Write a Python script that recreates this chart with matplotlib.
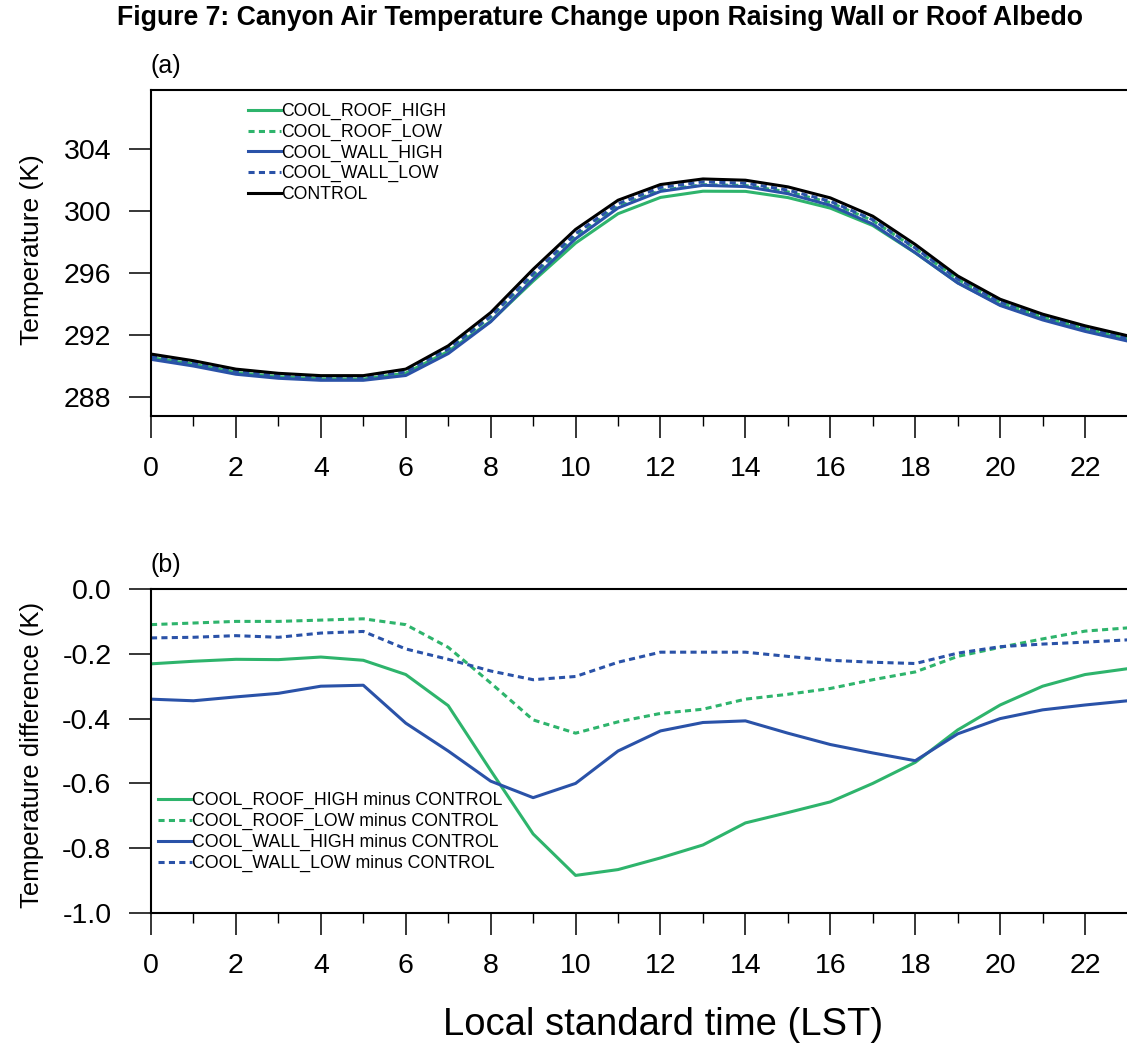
import numpy as np
import matplotlib
matplotlib.use("Agg")
import matplotlib.pyplot as plt
from matplotlib.ticker import MultipleLocator

plt.rcParams['font.family'] = ['Liberation Sans', 'DejaVu Sans']
plt.rcParams['axes.unicode_minus'] = False

#================ Dati ================
hours = list(range(24))

# (a) canyon air temperature (K)
control = [290.79, 290.36, 289.82, 289.55, 289.40, 289.40, 289.82, 291.32, 293.46, 296.25, 298.82, 300.70,
           301.71, 302.07, 301.99, 301.56, 300.85, 299.67, 297.85, 295.82, 294.32, 293.36, 292.61, 291.97]
roof_high = [290.56, 290.14, 289.60, 289.33, 289.19, 289.18, 289.56, 290.96, 292.90, 295.49, 297.94, 299.83,
             300.88, 301.28, 301.27, 300.87, 300.19, 299.07, 297.31, 295.38, 293.96, 293.06, 292.35, 291.72]
roof_low = [290.68, 290.26, 289.72, 289.45, 289.30, 289.31, 289.71, 291.14, 293.17, 295.85, 298.38, 300.29,
            301.33, 301.70, 301.65, 301.24, 300.54, 299.39, 297.59, 295.61, 294.14, 293.21, 292.48, 291.85]
wall_high = [290.45, 290.02, 289.49, 289.23, 289.10, 289.10, 289.41, 290.82, 292.87, 295.61, 298.22, 300.20,
             301.27, 301.66, 301.58, 301.12, 300.37, 299.16, 297.32, 295.37, 293.92, 292.99, 292.25, 291.63]
wall_low = [290.64, 290.21, 289.68, 289.40, 289.26, 289.27, 289.64, 291.10, 293.21, 295.97, 298.55, 300.47,
            301.52, 301.88, 301.80, 301.35, 300.63, 299.44, 297.62, 295.62, 294.14, 293.19, 292.45, 291.81]

# (b) differences (K)
d_roof_high = [-0.231, -0.223, -0.217, -0.218, -0.210, -0.220, -0.264, -0.360, -0.560, -0.756, -0.884, -0.866,
               -0.830, -0.790, -0.722, -0.690, -0.657, -0.600, -0.535, -0.435, -0.358, -0.300, -0.264, -0.246]
d_roof_low = [-0.110, -0.105, -0.100, -0.100, -0.096, -0.092, -0.110, -0.180, -0.290, -0.404, -0.445, -0.410,
              -0.384, -0.371, -0.340, -0.325, -0.307, -0.280, -0.256, -0.208, -0.180, -0.154, -0.130, -0.120]
d_wall_high = [-0.340, -0.345, -0.333, -0.322, -0.300, -0.297, -0.414, -0.500, -0.593, -0.644, -0.600, -0.500,
               -0.438, -0.412, -0.407, -0.445, -0.480, -0.506, -0.530, -0.447, -0.400, -0.373, -0.358, -0.345]
d_wall_low = [-0.151, -0.149, -0.144, -0.149, -0.136, -0.131, -0.185, -0.217, -0.253, -0.280, -0.270, -0.226,
              -0.195, -0.195, -0.195, -0.208, -0.220, -0.226, -0.230, -0.198, -0.178, -0.170, -0.164, -0.157]
#======================================

green = "#2eb46c"
blue = "#2a52a8"
dash = (0, (2.0, 1.4))
lw = 2.2

fig = plt.figure(figsize=(11.27, 10.49), dpi=100)
W, H = 1127.0, 1049.0

def px_axes(l, t, r, b):
    return fig.add_axes([l / W, 1 - b / H, (r - l) / W, (b - t) / H])

# the right edge of the original plot is cut off by the page, so the axes run past the figure
ax1 = px_axes(151, 90, 1170, 416)
ax2 = px_axes(151, 589, 1170, 913)

ax1.plot(hours, roof_high, color=green, lw=lw, label="COOL_ROOF_HIGH")
ax1.plot(hours, roof_low, color=green, lw=lw, ls=dash, label="COOL_ROOF_LOW")
ax1.plot(hours, wall_high, color=blue, lw=lw, label="COOL_WALL_HIGH")
ax1.plot(hours, wall_low, color=blue, lw=lw, ls=dash, label="COOL_WALL_LOW")
ax1.plot(hours, control, color="black", lw=lw, label="CONTROL")
ax1.set_ylim(286.8, 307.8)
ax1.set_yticks([288, 292, 296, 300, 304])

ax2.plot(hours, d_roof_high, color=green, lw=lw, label="COOL_ROOF_HIGH minus CONTROL")
ax2.plot(hours, d_roof_low, color=green, lw=lw, ls=dash, label="COOL_ROOF_LOW minus CONTROL")
ax2.plot(hours, d_wall_high, color=blue, lw=lw, label="COOL_WALL_HIGH minus CONTROL")
ax2.plot(hours, d_wall_low, color=blue, lw=lw, ls=dash, label="COOL_WALL_LOW minus CONTROL")
ax2.set_ylim(-1.0, 0.0)
ax2.set_yticks([0.0, -0.2, -0.4, -0.6, -0.8, -1.0])
ax2.set_yticklabels(["0.0", "-0.2", "-0.4", "-0.6", "-0.8", "-1.0"])

for ax in (ax1, ax2):
    ax.set_xlim(0, 24)
    ax.set_xticks(range(0, 24, 2))
    ax.xaxis.set_minor_locator(MultipleLocator(1))
    ax.tick_params(which="major", direction="out", length=15.5, width=1.1, labelsize=20.5, pad=13)
    ax.tick_params(which="minor", direction="out", length=7, width=1.0)
    ax.tick_params(axis="y", which="minor", left=False)
    for s in ax.spines.values():
        s.set_linewidth(1.5)

leg1 = ax1.legend(loc="upper left", bbox_to_anchor=(248 / W, 1 - 103 / H), bbox_transform=fig.transFigure,
                  frameon=False, fontsize=12.7, handlelength=1.85, handletextpad=0.0,
                  labelspacing=0.2, borderpad=0, borderaxespad=0)
leg2 = ax2.legend(loc="upper left", bbox_to_anchor=(158 / W, 1 - 792 / H), bbox_transform=fig.transFigure,
                  frameon=False, fontsize=12.8, handlelength=1.9, handletextpad=0.0,
                  labelspacing=0.22, borderpad=0, borderaxespad=0)

fig.text(600 / W, 1 - 18 / H, "Figure 7: Canyon Air Temperature Change upon Raising Wall or Roof Albedo",
         ha="center", va="center", fontsize=19.2, fontweight="bold")
fig.text(151 / W, 1 - 66 / H, "(a)", ha="left", va="center", fontsize=18)
fig.text(151 / W, 1 - 565 / H, "(b)", ha="left", va="center", fontsize=18)
fig.text(32 / W, 1 - 250 / H, "Temperature (K)", rotation=90, ha="center", va="center", fontsize=19)
fig.text(32 / W, 1 - 755 / H, "Temperature difference (K)", rotation=90, ha="center", va="center", fontsize=18.5)
fig.text(663 / W, 1 - 1025 / H, "Local standard time (LST)", ha="center", va="center", fontsize=27.5)

fig.savefig("out.png", dpi=100)
